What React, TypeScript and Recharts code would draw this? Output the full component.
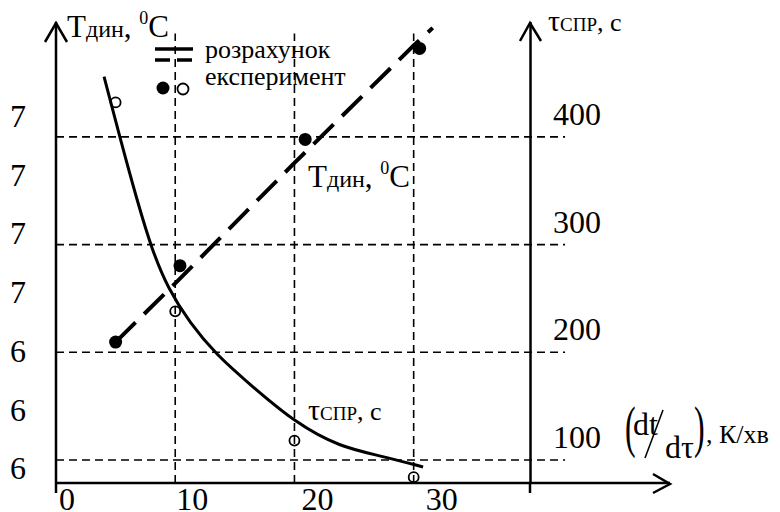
import React from 'react';
import { ComposedChart, Line, Scatter, XAxis, YAxis, ReferenceLine } from 'recharts';

const FONT = 'Liberation Serif, Tinos, DejaVu Serif, serif';

// axis ticks
const xTicks = [0, 10, 20, 30];
const tempTicks = [640, 660, 680, 700, 720, 740, 760];
const tempTickLabels = ['6', '6', '6', '7', '7', '7', '7'];
const tauTicks = [100, 200, 300, 400];
const gridX = [10, 20, 30];

// T_дин, розрахунок (dashed) and експеримент (filled dots)
const tempCalc = [
  { x: 5, y: 683 },
  { x: 10, y: 703 },
  { x: 20, y: 744 },
  { x: 30, y: 784 },
  { x: 31.6, y: 790 },
];
const tempExp = [
  { x: 5, y: 683 },
  { x: 10.4, y: 709 },
  { x: 20.9, y: 752 },
  { x: 30.5, y: 783 },
];

// τ_спр, розрахунок (solid) and експеримент (open dots)
const tauCalc = [
  { x: 4.03, y: 456 },
  { x: 5.37, y: 399 },
  { x: 6.8, y: 341 },
  { x: 8.05, y: 295 },
  { x: 9.4, y: 259 },
  { x: 11.24, y: 227 },
  { x: 13.42, y: 198 },
  { x: 16.28, y: 170 },
  { x: 20.13, y: 134 },
  { x: 23.83, y: 112 },
  { x: 27.18, y: 104 },
  { x: 30.79, y: 93.5 },
];
const tauExp = [
  { x: 5, y: 432 },
  { x: 10, y: 238 },
  { x: 20, y: 118 },
  { x: 30, y: 84 },
];

const xDomain = [0, 51.5];
const tempDomain = [635, 792];
const tauDomain = [78.6, 506.7];
const tauAxisAt = 39.8;
const gridRight = 42.7;
const gridTop = 496;

const xTickShift = [11, 17, 23, 28];

const XTick = (props: any) => {
  const { x, y, payload } = props;
  const i = xTicks.indexOf(payload.value);
  return (
    <text x={x + (xTickShift[i] || 0)} y={y + 16} textAnchor="middle" dominantBaseline="central"
      fontSize={32} style={{ fontFamily: FONT }} fill="#000">
      {payload.value}
    </text>
  );
};

const TempTick = (props: any) => {
  const { x, y, payload } = props;
  const i = tempTicks.indexOf(payload.value);
  return (
    <text x={x - 38} y={y} textAnchor="middle" dominantBaseline="central"
      fontSize={32} style={{ fontFamily: FONT }} fill="#000">
      {tempTickLabels[i]}
    </text>
  );
};

const TauTick = (props: any) => {
  const { x, y, payload } = props;
  return (
    <text x={x - 93} y={y - 23} textAnchor="middle" dominantBaseline="central"
      fontSize={32} style={{ fontFamily: FONT }} fill="#000">
      {payload.value}
    </text>
  );
};

const FilledDot = (props: any) => <circle cx={props.cx} cy={props.cy} r={6.5} fill="#000" />;
const OpenDot = (props: any) => (
  <circle cx={props.cx} cy={props.cy} r={5} fill="none" stroke="#000" strokeWidth={1.8} />
);

const TempLabel = ({ x, y }: { x: number; y: number }) => (
  <text x={x} y={y} style={{ fontFamily: FONT }} fill="#000">
    <tspan fontSize={31}>T</tspan>
    <tspan fontSize={24}>дин</tspan>
    <tspan fontSize={31}>, </tspan>
    <tspan fontSize={18} dy={-13}>0</tspan>
    <tspan fontSize={31} dy={13}>C</tspan>
  </text>
);

const TauLabel = ({ x, y }: { x: number; y: number }) => (
  <text x={x} y={y} style={{ fontFamily: FONT }} fill="#000">
    <tspan fontSize={30}>τ</tspan>
    <tspan fontSize={19}>СПР</tspan>
    <tspan fontSize={26}>, с</tspan>
  </text>
);

export default function App() {
  return (
    <div style={{ position: 'absolute', left: 0, top: 0, width: 780, height: 512, background: '#fff', fontFamily: FONT }}>
      <ComposedChart width={780} height={512} margin={{ top: 22, right: 100, bottom: 0, left: 0 }}>
        <XAxis dataKey="x" type="number" domain={xDomain} ticks={xTicks} allowDataOverflow
          height={29} tickSize={0} tickMargin={0} tickLine={false}
          axisLine={{ stroke: '#000', strokeWidth: 2.5 }} tick={<XTick />} />
        <YAxis yAxisId="temp" type="number" domain={tempDomain} ticks={tempTicks} allowDataOverflow
          width={56} tickSize={0} tickMargin={0} tickLine={false}
          axisLine={{ stroke: '#000', strokeWidth: 2.5 }} tick={<TempTick />} />
        <YAxis yAxisId="tau" orientation="right" type="number" domain={tauDomain} ticks={tauTicks}
          allowDataOverflow width={10} tickSize={0} tickMargin={0} tickLine={false}
          axisLine={false} tick={<TauTick />} />

        {tauTicks.map((t) => (
          <ReferenceLine key={'h' + t} yAxisId="tau" ifOverflow="visible"
            segment={[{ x: 0, y: t }, { x: gridRight, y: t }]}
            stroke="#000" strokeWidth={1.6} strokeDasharray="8 5" />
        ))}
        {gridX.map((g) => (
          <ReferenceLine key={'v' + g} yAxisId="tau" ifOverflow="visible"
            segment={[{ x: g, y: tauDomain[0] }, { x: g, y: gridTop }]}
            stroke="#000" strokeWidth={1.6} strokeDasharray="8 5" />
        ))}
        <ReferenceLine yAxisId="tau" x={tauAxisAt} stroke="#000" strokeWidth={2.5} />

        <Line yAxisId="temp" data={tempCalc} dataKey="y" type="linear" stroke="#000"
          strokeWidth={4} strokeDasharray="28 12" dot={false} isAnimationActive={false} />
        <Line yAxisId="tau" data={tauCalc} dataKey="y" type="basis" stroke="#000"
          strokeWidth={3} dot={false} isAnimationActive={false} />
        <Scatter yAxisId="temp" data={tempExp} dataKey="y" shape={<FilledDot />} isAnimationActive={false} />
        <Scatter yAxisId="tau" data={tauExp} dataKey="y" shape={<OpenDot />} isAnimationActive={false} />
      </ComposedChart>

      <svg width={780} height={512} style={{ position: 'absolute', left: 0, top: 0, pointerEvents: 'none', fontFamily: FONT }}>
        <g fill="none" stroke="#000" strokeWidth={2.5}>
          <polyline points="45,42 56,23 67,42" />
          <polyline points="520,41 530,23 541,41" />
          <polyline points="653,474 670,484 653,493" />
          <line x1={56} y1={483} x2={56} y2={493} />
          <line x1={530} y1={483} x2={530} y2={493} />
        </g>

        <TempLabel x={67} y={37} />
        <TempLabel x={308} y={187} />
        <TauLabel x={548} y={31} />
        <TauLabel x={308} y={420} />

        {/* legend */}
        <line x1={155} y1={49} x2={193} y2={49} stroke="#000" strokeWidth={3.5} />
        <line x1={155} y1={60} x2={193} y2={60} stroke="#000" strokeWidth={3.5} strokeDasharray="15 7" />
        <circle cx={163} cy={88} r={6.5} fill="#000" />
        <circle cx={183} cy={89} r={5.5} fill="none" stroke="#000" strokeWidth={1.8} />
        <text x={205} y={58} fontSize={26} fill="#000">розрахунок</text>
        <text x={205} y={85} fontSize={26} fill="#000">експеримент</text>

        {/* x-axis title */}
        <text transform="translate(625,446) scale(1,1.75)" fontSize={32} fill="#000">(</text>
        <text x={633} y={435} fontSize={32} fill="#000">dt</text>
        <line x1={663} y1={410} x2={645} y2={458} stroke="#000" strokeWidth={1.6} />
        <text x={665} y={458} fontSize={32} fill="#000">dτ</text>
        <text transform="translate(694,446) scale(1,1.75)" fontSize={32} fill="#000">)</text>
        <text x={706} y={443} fontSize={26} fill="#000">, К/хв</text>
      </svg>
    </div>
  );
}
